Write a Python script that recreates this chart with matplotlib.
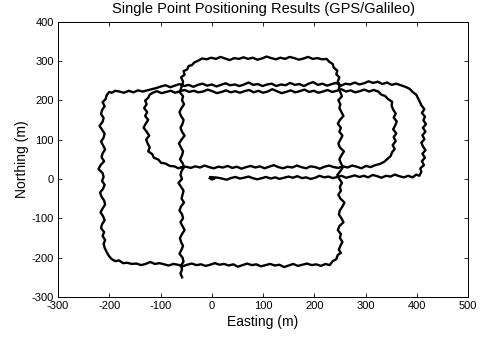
import matplotlib
matplotlib.use("Agg")
import matplotlib.pyplot as plt

plt.rcParams['font.family'] = ['Liberation Sans', 'DejaVu Sans']
plt.rcParams['axes.unicode_minus'] = False

# ---------------- data (metres) ----------------
title = "Single Point Positioning Results (GPS/Galileo)"
x_label = "Easting (m)"
y_label = "Northing (m)"
x_ticks = [-300, -200, -100, 0, 100, 200, 300, 400, 500]
y_ticks = [-300, -200, -100, 0, 100, 200, 300, 400]

# main track, in driving order
start_e = [-4, 0, -3, 2, -1, 3, 0, 5, -2, 1, 4, -3, 2, 6,
           12, 20, 29, 37, 46, 55, 63, 72, 80, 89, 98, 106, 115, 124, 132, 141, 150, 158,
           167, 176, 184, 193, 202, 210, 219, 228, 236, 245, 253, 262, 271, 279, 288, 297,
           305, 314, 323, 331, 340, 349, 357, 366, 375, 383]
start_n = [2, -1, 4, 1, 3, 0, 4, 2, 5, -1, 1, 3, 0, 4,
           3, 1, -2, 2, 5, 1, 3, 6, 2, -1, 2, 5, 1, 4, 0, 3, 6, 3,
           7, 2, 4, 0, 3, 8, 4, 6, 2, 5, 8, 3, 6, 9, 5, 8,
           4, 10, 7, 3, 8, 6, 11, 7, 4, 8]

east_loop_e = [392, 399, 405, 409, 407, 414, 410, 416, 411, 417, 412, 409, 415, 411, 417,
               412, 418, 413, 416, 410, 415, 409, 406, 402, 399, 392, 386, 378]
east_loop_n = [4, 11, 8, 18, 27, 35, 45, 54, 64, 73, 83, 92, 101, 111, 120,
               130, 139, 149, 158, 168, 177, 187, 196, 206, 214, 221, 229, 234]

north_e = [369, 360, 351, 342, 333, 324, 315, 306, 297, 288, 279, 270, 261, 252, 243, 234,
           225, 216, 207, 198, 189, 180, 171, 162, 153, 144, 135, 126, 117, 108, 99, 90,
           81, 72, 63, 54, 45, 36, 27, 18, 9, 0, -9, -18, -27, -36, -45, -54, -63, -72,
           -81, -90, -99, -108, -117, -126, -135, -144, -153, -162, -171, -180]
north_n = [238, 242, 239, 245, 241, 247, 244, 248, 243, 240,
           245, 240, 242, 237, 244, 241, 237, 242, 239, 246,
           242, 236, 241, 239, 244, 238, 240, 236, 242, 240,
           236, 241, 239, 245, 240, 236, 240, 238, 243, 239,
           235, 240, 237, 242, 239, 234, 239, 236, 241, 237,
           233, 238, 235, 231, 228, 225, 222, 225, 220, 224, 219, 222]

west_e = [-188, -195, -200, -205, -207, -213,
          -209, -214, -216, -211, -213, -219, -214, -209, -211, -216, -212, -208, -213,
          -215, -210, -217, -221, -213, -211, -214, -209, -212, -218, -215, -210, -208,
          -213, -217, -212, -209, -214, -216, -210, -213, -208, -211, -209]
west_n = [224, 219, 221, 213, 203, 195,
          185, 175, 165, 155, 145, 135, 125, 115, 105, 95, 85, 75, 65,
          55, 45, 35, 25, 15, 5, -5, -15, -25, -35, -45, -55, -65,
          -75, -85, -95, -105, -115, -125, -135, -145, -155, -165, -175]

south_e = [-205, -201, -196, -188, -181, -173,
           -165, -156, -147, -138, -129, -120, -111, -102, -93, -84, -75, -66, -57, -48,
           -39, -30, -21, -12, -3, 6, 15, 24, 33, 42, 51, 60, 69, 78, 87, 96, 105, 114,
           123, 132, 141, 150, 159, 168, 177, 186, 195, 204,
           213, 222, 230, 236, 243, 246, 252]
south_n = [-186, -195, -203, -209, -207, -214,
           -213, -216, -215, -219, -216, -211, -216, -214, -217, -220, -216, -218, -222, -218,
           -215, -219, -217, -221, -218, -214, -218, -216, -220, -217, -223, -219, -215, -219,
           -217, -222, -219, -216, -220, -218, -224, -220, -216, -221, -218, -215, -219, -217,
           -221, -216, -219, -209, -204, -193, -188]

mid_e = [248, 251, 255, 250, 252, 246, 249, 257, 253, 248, 250, 255, 259, 251, 247, 252,
         250, 254, 249, 245, 251, 256, 252, 249, 253, 258, 250, 247, 251, 255, 249, 252,
         246, 250, 257, 253, 249, 251, 247, 254, 251, 248, 250]
mid_n = [-180, -170, -160, -150, -140, -130, -120, -110, -100, -90, -80, -70, -60, -50,
         -40, -30, -20, -10, 0, 10, 20, 30, 40, 50, 60, 70, 80, 90, 100, 110, 120, 130,
         140, 150, 160, 170, 180, 190, 200, 210, 220, 230, 238]

top_e = [246, 249, 243, 245, 238, 236, 229, 224,
         215, 206, 197, 188, 179, 170, 161, 152, 143, 134, 125, 116, 107, 98, 89, 80, 71,
         62, 53, 44, 35, 26, 17, 8, -1, -10, -19,
         -27, -34, -39, -45, -48, -55, -53, -60, -56]
top_n = [248, 258, 266, 275, 283, 292, 298, 305,
         304, 307, 305, 310, 306, 303, 307, 310, 305, 308, 304, 307, 311, 306, 303, 308, 305,
         309, 305, 307, 302, 306, 310, 305, 308, 304, 306,
         300, 296, 289, 287, 278, 274, 265, 258, 248]

down_e = [-57, -60, -62, -56, -58, -54, -59, -63, -60, -55, -57, -61, -58, -53, -59, -64,
          -60, -56, -58, -62, -57, -54, -59, -61, -58, -65, -60, -55, -57, -59, -54, -60,
          -63, -58, -56, -61, -57, -53, -58, -62, -60, -56, -59, -63, -57, -55, -60, -58,
          -61, -58]
down_n = [240, 230, 220, 210, 200, 190, 180, 170, 160, 150, 140, 130, 120, 110, 100, 90,
          80, 70, 60, 50, 40, 30, 20, 10, 0, -10, -20, -30, -40, -50, -60, -70, -80, -90,
          -100, -110, -120, -130, -140, -150, -160, -170, -180, -190, -200, -210, -220,
          -230, -240, -250]

# inner loop (closed)
inner_s_e = [-58, -50, -41, -32, -23, -14, -5, 4, 13, 22, 31, 40, 49, 58, 67, 76, 85, 94,
             103, 112, 121, 130, 139, 148, 157, 166, 175, 184, 193, 202, 211, 220, 229,
             238, 247, 256, 265, 274, 283, 292, 301, 310, 319,
             328, 336, 343, 349, 352, 357]
inner_s_n = [30, 31, 28, 32, 29, 34, 30, 27, 31, 29, 33, 28, 31, 26, 30, 33, 29, 32,
             27, 31, 35, 30, 27, 31, 29, 34, 30, 27, 32, 30, 26, 31, 34,
             30, 28, 32, 29, 34, 31, 27, 33, 30, 35,
             38, 43, 51, 58, 68, 76]
inner_e_e = [353, 359, 355, 360, 354, 358, 361, 355, 359, 354,
             351, 352, 344, 338, 331, 325]
inner_e_n = [86, 96, 106, 116, 126, 136, 146, 156, 166, 176,
             186, 196, 203, 211, 214, 222]
inner_n_e = [316, 307, 298, 289, 280, 271, 262, 253, 244, 235, 226, 217, 208, 199, 190,
             181, 172, 163, 154, 145, 136, 127, 118, 109, 100, 91, 82, 73, 64, 55, 46, 37,
             28, 19, 10, 1, -8, -17, -26, -35, -44, -53, -62, -71, -80, -89, -98, -107]
inner_n_n = [226, 222, 227, 223, 220, 225, 222, 228, 224, 221, 226, 222, 219, 224, 221,
             227, 223, 220, 225, 221, 218, 223, 228, 222, 219, 224, 220, 226, 223, 219,
             223, 220, 225, 221, 218, 223, 227, 222, 220, 224, 221, 226, 223, 219, 224,
             221, 218, 223]
inner_w_e = [-115, -121, -124, -130, -127,
             -132, -126, -130, -124, -129, -133, -127, -122, -128, -125,
             -121, -124, -116, -113, -104, -99, -90, -82, -73, -65, -58]
inner_w_n = [219, 214, 206, 199, 190,
             180, 170, 160, 150, 140, 130, 120, 110, 100, 90,
             80, 70, 63, 54, 49, 41, 39, 33, 32, 27, 30]

track_e = start_e + east_loop_e + north_e + west_e + south_e + mid_e + top_e + down_e
track_n = start_n + east_loop_n + north_n + west_n + south_n + mid_n + top_n + down_n
inner_e = inner_s_e + inner_e_e + inner_n_e + inner_w_e
inner_n = inner_s_n + inner_e_n + inner_n_n + inner_w_n

# ---------------- plot ----------------
fig = plt.figure(figsize=(4.88, 3.37), dpi=100)
ax = fig.add_axes([58 / 488, 1 - 297 / 337, 410 / 488, (297 - 21.5) / 337])

ax.plot(track_e, track_n, color='black', lw=1.7)
ax.plot(inner_e, inner_n, color='black', lw=1.7)

ax.set_xlim(-300, 500)
ax.set_ylim(-300, 400)
ax.set_xticks(x_ticks)
ax.set_yticks(y_ticks)
ax.tick_params(direction='in', length=3, width=0.6, top=True, right=True,
               labelsize=8, pad=3)
for s in ax.spines.values():
    s.set_linewidth(0.7)
    s.set_color('black')

ax.set_title(title, fontsize=10.5, pad=6)
ax.set_xlabel(x_label, fontsize=10, labelpad=3)
ax.set_ylabel(y_label, fontsize=10, labelpad=2)

fig.savefig("out.png", dpi=100)
